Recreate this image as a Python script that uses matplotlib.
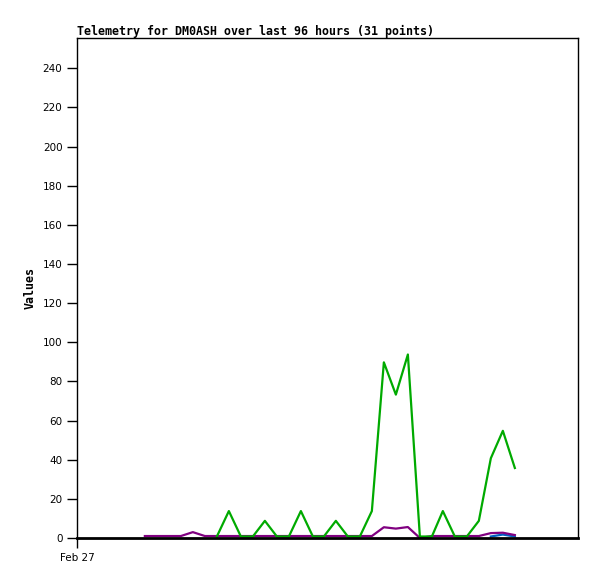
import matplotlib
matplotlib.use("Agg")
import matplotlib.pyplot as plt
import matplotlib.transforms as mtransforms
import numpy as np

# hours after Feb 27 00:00
hours = [13.0, 15.3, 17.6, 19.9, 22.2, 24.5, 26.8, 29.1, 31.4, 33.7, 36.0, 38.3,
         40.6, 42.9, 45.2, 47.3, 49.6, 51.9, 54.2, 56.5, 58.8, 61.1, 63.4, 65.7,
         68.0, 70.1, 72.4, 74.7, 77.0, 79.3, 81.6, 83.9]

nan = np.nan
green = [nan, nan, nan, nan, nan, nan, 0, 13, 0, 0, 8, 0,
         0, 13, 0, 0, 8, 0, 0, 13, 89, 72.5, 93, 0,
         0, 13, 0, 0, 8, 40, 54, 35]
purple = [1, 1, 1, 1, 3, 1, 1, 1, 1, 1, 1, 1,
          1, 1, 1, 1, 1, 1, 1, 1, 5.5, 4.8, 5.6, 0,
          1, 1, 1, 1, 1, 2.5, 2.7, 1.5]
blue = [nan] * 29 + [0, 1, 0]

fig = plt.figure(figsize=(5.97, 5.79), dpi=100)
ax = fig.add_axes([77 / 597, 1 - 538 / 579, 501 / 597, 500 / 579])

# the original renderer draws its lines a pixel or so above the value
lift = mtransforms.offset_copy(ax.transData, fig=fig, y=1.5, units="dots")
ax.plot(hours, blue, color="#0060c0", lw=1.6, zorder=2, transform=lift)
ax.plot(hours, purple, color="#800080", lw=1.6, zorder=3)
ax.plot(hours, green, color="#00aa00", lw=1.6, zorder=4, transform=lift)

ax.set_xlim(0, 96)
ax.set_ylim(0, 255.5)
ax.set_yticks(range(0, 241, 20))
ax.set_xticks([0])
ax.set_xticklabels(["Feb 27"])
ax.tick_params(axis="both", labelsize=7.5, length=7, width=1, direction="out", colors="black")
ax.tick_params(axis="x", pad=4)

for side in ["top", "right", "left"]:
    ax.spines[side].set_linewidth(1)
ax.spines["bottom"].set_linewidth(2)
ax.spines["bottom"].set_zorder(5)

fig.text(77 / 597, 1 - 31 / 579, "Telemetry for DM0ASH over last 96 hours (31 points)",
         family="DejaVu Sans Mono", weight="bold", fontsize=8.35, va="center", ha="left")
ax.set_ylabel("Values", family="DejaVu Sans Mono", weight="bold", fontsize=8.35, labelpad=4)

fig.savefig("out.png", dpi=100)
